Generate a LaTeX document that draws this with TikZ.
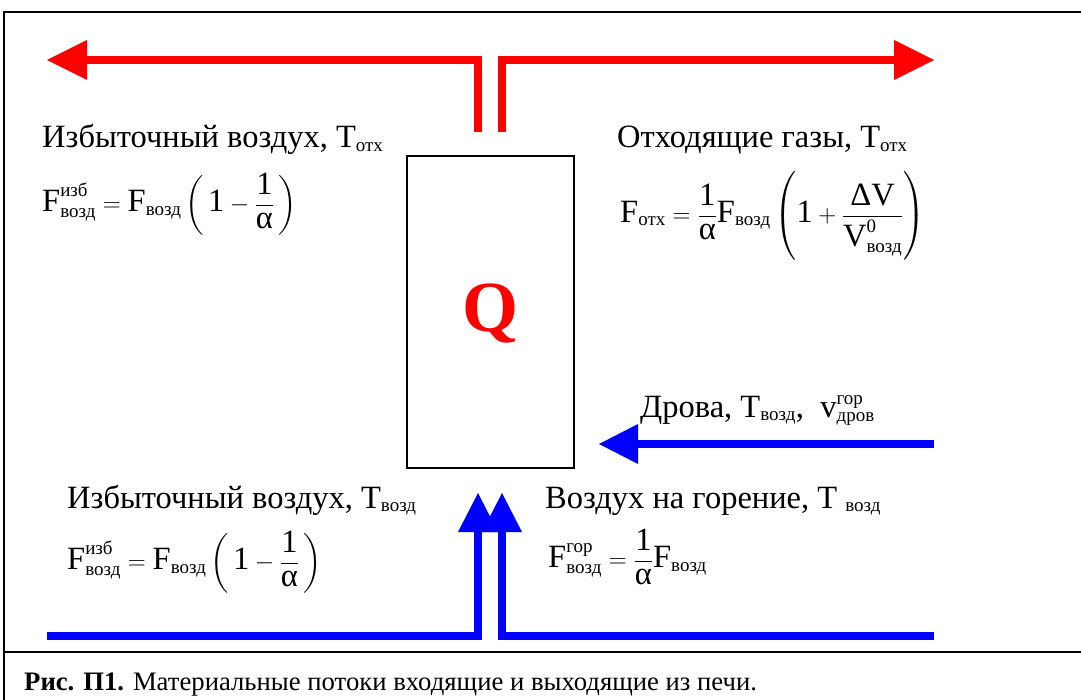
\documentclass[tikz,border=0pt]{standalone}
\usepackage{amsmath}
\usepackage{fontspec}
\setmainfont{Liberation Serif}
\usetikzlibrary{arrows.meta}
\DeclareMathSizes{32.5}{32.5}{19}{15}
\DeclareMathSizes{26.7}{26.7}{16}{12}
\newcommand{\tx}[1]{\text{#1}}
\begin{document}
\begin{tikzpicture}[x=1pt,y=-1pt,
  lbl/.style={font=\fontsize{32.5}{38}\selectfont, inner sep=0pt, anchor=base west},
  frm/.style={font=\fontsize{32.5}{38}\selectfont, inner sep=0pt, anchor=west},
  redline/.style={draw=red, line width=8pt, line join=miter},
  blueline/.style={draw=blue, line width=8pt, line join=miter},
  redtip/.style={-{Triangle[length=40pt,width=40pt,line width=0pt]}},
  bluetip/.style={-{Triangle[length=39pt,width=40pt,line width=0pt]}},
  frameline/.style={draw=black, line width=2.5pt}]
\useasboundingbox (0,0) rectangle (1081,700);
% frame
\coordinate (fTR) at (1085,12);
\coordinate (fTL) at (4,12);
\coordinate (fBL) at (4,705);
\coordinate (sL) at (4,652);
\coordinate (sR) at (1085,652);
\draw[frameline] (fTR) -- (fTL) -- (fBL);
\draw[frameline] (sL) -- (sR);
% furnace box
\node[draw=black, line width=2pt, minimum width=167pt, minimum height=312pt, inner sep=0pt] (box) at (490.5,312) {};
\node[font=\fontsize{72}{80}\selectfont\bfseries, text=red, inner sep=0pt, anchor=base] (q) at (490,331) {Q};
% red outlet arrows
\coordinate (rLb) at (478,132); \coordinate (rLc) at (478,60); \coordinate (rL) at (47,60);
\coordinate (rRb) at (502,132); \coordinate (rRc) at (502,60); \coordinate (rR) at (934,60);
\draw[redline, redtip] (rLb) -- (rLc) -- (rL);
\draw[redline, redtip] (rRb) -- (rRc) -- (rR);
% blue inlet arrows
\coordinate (bL) at (47,636); \coordinate (bLc) at (478,636); \coordinate (bLt) at (478,493);
\coordinate (bR) at (934,636); \coordinate (bRc) at (502,636); \coordinate (bRt) at (502,493);
\draw[blueline, bluetip] (bL) -- (bLc) -- (bLt);
\draw[blueline, bluetip] (bR) -- (bRc) -- (bRt);
\coordinate (dS) at (934,444); \coordinate (dT) at (599,444);
\draw[blueline, bluetip] (dS) -- (dT);
% labels
\node[lbl] (t1) at (42,148) {Избыточный воздух, $\tx{T}_{\tx{отх}}$};
\node[frm] (f1) at (42,204) {$\tx{F}^{\tx{изб}}_{\tx{возд}} = \tx{F}_{\tx{возд}}\left(\,\tx{1}-\dfrac{\tx{1}}{\tx{α}}\,\right)$};
\node[lbl] (t2) at (617,148) {Отходящие газы, $\tx{T}_{\tx{отх}}$};
\node[frm] (f2) at (620,216) {$\tx{F}_{\tx{отх}} = \dfrac{\tx{1}}{\tx{α}}\tx{F}_{\tx{возд}}\left(\tx{1}+\dfrac{\tx{ΔV}}{\tx{V}^{\tx{0}}_{\tx{возд}}}\right)$};
\node[lbl] (t3) at (640,417) {Дрова, $\tx{T}_{\tx{возд}}$, \ $\tx{v}^{\tx{гор}}_{\tx{дров}}$};
\node[lbl] (t4) at (67,508) {Избыточный воздух, $\tx{T}_{\tx{возд}}$};
\node[frm] (f4) at (67,562) {$\tx{F}^{\tx{изб}}_{\tx{возд}} = \tx{F}_{\tx{возд}}\left(\,\tx{1}-\dfrac{\tx{1}}{\tx{α}}\,\right)$};
\node[lbl] (t5) at (545,508) {Воздух на горение, $\tx{T}\ _{\tx{возд}}$};
\node[frm] (f5) at (548,557) {$\tx{F}^{\tx{гор}}_{\tx{возд}} = \dfrac{\tx{1}}{\tx{α}}\tx{F}_{\tx{возд}}$};
% caption
\node[anchor=base west, inner sep=0pt, font=\fontsize{26.7}{32}\selectfont] (cap) at (24,690) {\textbf{Рис. П1.} Материальные потоки входящие и выходящие из печи.};
\end{tikzpicture}
\end{document}
